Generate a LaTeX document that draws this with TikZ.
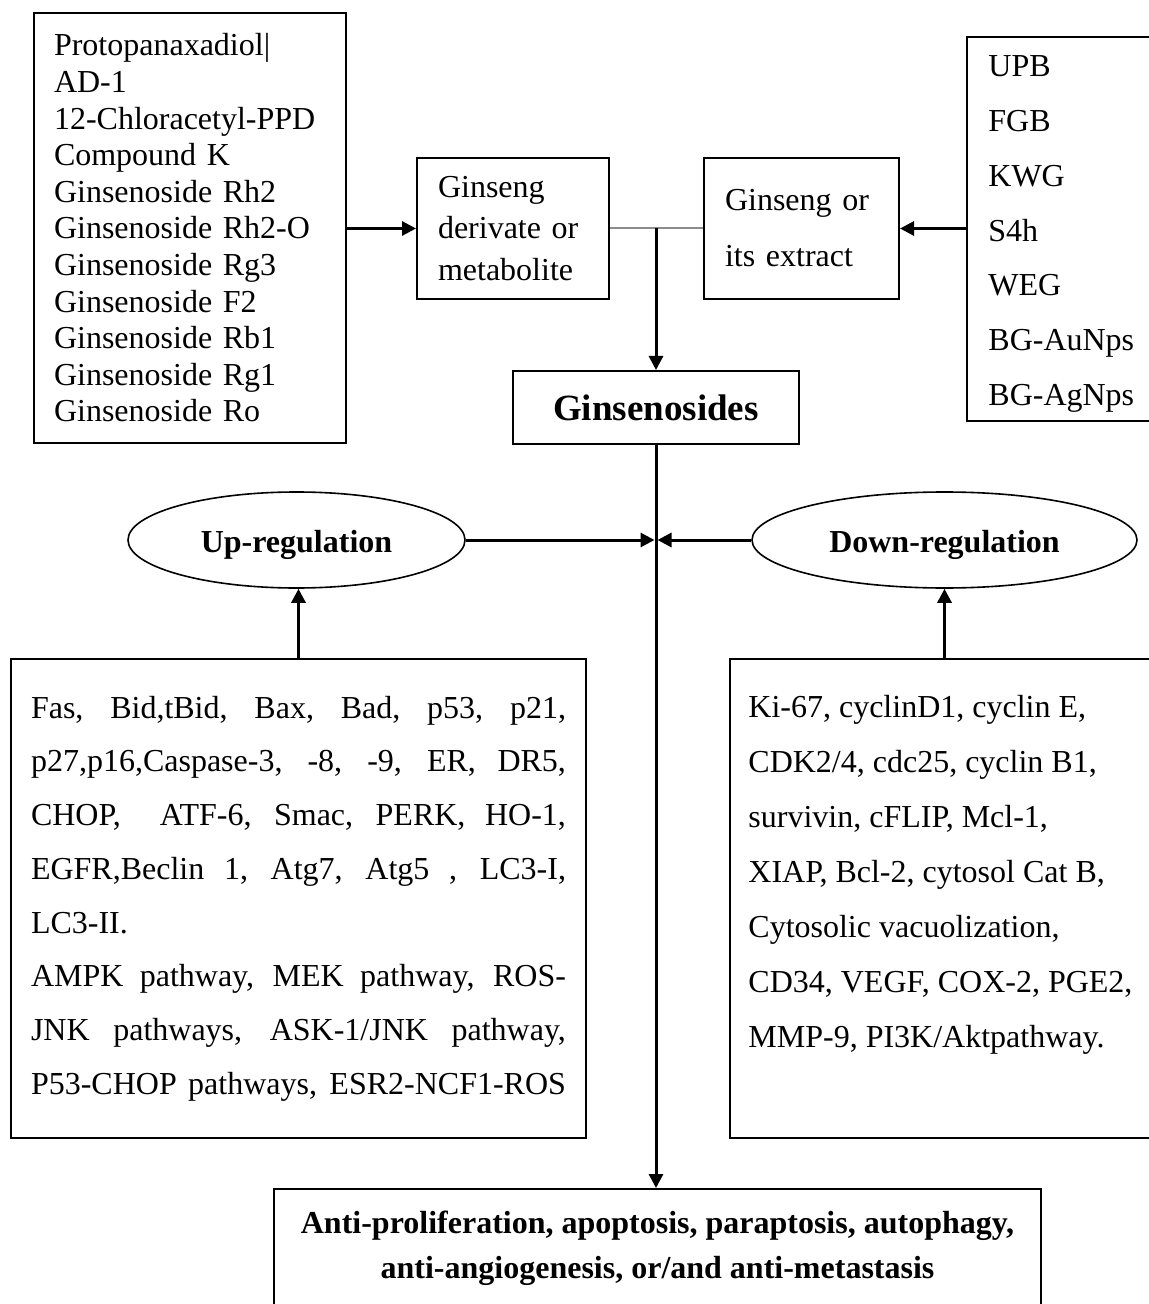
\documentclass[tikz,border=0pt]{standalone}
\usepackage{fontspec}
\setmainfont{Liberation Serif}
\usetikzlibrary{arrows.meta,shapes.geometric}
\newcommand\jline[1]{\leavevmode\hbox to 267.5pt{\spaceskip=0.25em plus 1fil minus 0.05em\relax #1}}
\begin{document}
\begin{tikzpicture}[x=0.5pt,y=-0.5pt,
  box/.style={draw, line width=1pt, rectangle, inner sep=0pt, anchor=north west},
  arr/.style={line width=1.5pt, -{Triangle[length=7pt,width=7pt]}},
  oval/.style={draw, ellipse, line width=0.8pt, inner sep=0pt, text height=12.5pt, text depth=0pt,
               font=\bfseries\fontsize{16}{19}\selectfont},
]
\useasboundingbox (0,0) rectangle (1149,1304);
\clip (0,0) rectangle (1149,1304);

% top-left list
\node[box, minimum width=156pt, minimum height=215pt, text width=136pt, inner xsep=10pt,
      align=left, font=\fontsize{16}{18.3}\selectfont] (tl) at (33,12)
  {Protopanaxadiol|\\AD-1\\12-Chloracetyl-PPD\\Compound K\\Ginsenoside Rh2\\Ginsenoside Rh2-O\\Ginsenoside Rg3\\Ginsenoside F2\\Ginsenoside Rb1\\Ginsenoside Rg1\\Ginsenoside Ro};

% derivate box
\node[box, minimum width=96pt, minimum height=70.5pt, text width=75pt, inner xsep=10.5pt,
      align=left, font=\fontsize{16}{20.75}\selectfont] (der) at (416,157)
  {Ginseng\\derivate or\\metabolite};

% extract box
\node[box, minimum width=97.5pt, minimum height=70.5pt, text width=76.5pt, inner xsep=10.5pt,
      align=left, font=\fontsize{16}{28}\selectfont] (ext) at (703,157)
  {Ginseng or\\its extract};

% right source list
\node[box, minimum width=95pt, minimum height=192pt] (src) at (966,36) {};
\node[anchor=west, inner sep=0pt, align=left, font=\fontsize{16}{27.4}\selectfont] (srct) at (988,234)
  {UPB\\FGB\\KWG\\S4h\\WEG\\BG-AuNps\\BG-AgNps};

% Ginsenosides
\node[box, minimum width=143pt, minimum height=36.5pt,
      font=\bfseries\fontsize{18.5}{22}\selectfont] (gin) at (512,370) {Ginsenosides};

% ellipses
\node[oval, minimum width=168.5pt, minimum height=48pt] (up) at (296.5,540) {Up-regulation};
\node[oval, minimum width=192.5pt, minimum height=48pt] (down) at (944.5,540) {Down-regulation};

% up-regulated list
\node[box, minimum width=287.5pt, minimum height=239.5pt, text width=267.5pt, inner xsep=10pt,
      align=left, font=\fontsize{16}{26.85}\selectfont] (ul) at (10,658)
  {\jline{Fas, Bid,tBid, Bax, Bad, p53, p21,}\\
   \jline{p27,p16,Caspase-3, -8, -9, ER, DR5,}\\
   \jline{CHOP, \ ATF-6, Smac, PERK, HO-1,}\\
   \jline{EGFR,Beclin 1, Atg7, Atg5 , LC3-I,}\\
   LC3-II.\\
   \jline{AMPK pathway, MEK pathway, ROS-}\\
   \jline{JNK pathways, ASK-1/JNK pathway,}\\
   \jline{P53-CHOP pathways, ESR2-NCF1-ROS}};

% down-regulated list
\node[box, minimum width=214.5pt, minimum height=239.5pt] (dr) at (729,658) {};
\node[anchor=west, inner sep=0pt, align=left, font=\fontsize{16}{27.5}\selectfont] (drt) at (748,875)
  {Ki-67, cyclinD1, cyclin E,\\CDK2/4, cdc25, cyclin B1,\\survivin, cFLIP, Mcl-1,\\XIAP, Bcl-2, cytosol Cat B,\\Cytosolic vacuolization,\\CD34, VEGF, COX-2, PGE2,\\MMP-9, PI3K/Aktpathway.};

% outcome
\node[box, minimum width=383.5pt, minimum height=59.5pt, align=center,
      font=\bfseries\fontsize{16}{22.5}\selectfont] (out) at (273,1188)
  {Anti-proliferation, apoptosis, paraptosis, autophagy,\\anti-angiogenesis, or/and anti-metastasis};

% connectors
\draw[arr] (der.west -| tl.east) -- (der.west);
\draw[arr] (ext.east -| src.west) -- (ext.east);
\draw[line width=1pt, black!45] (der.east) -- (ext.west);
\draw[arr] (gin.north |- der.east) -- (gin.north);
\draw[arr] (gin.south) -- (gin.south |- out.north);
\coordinate (jc) at (gin.south |- up.east);
\draw[arr] (up.east) -- ([xshift=-0.75pt]jc);
\draw[arr] (down.west) -- ([xshift=0.75pt]jc);
\draw[arr] (ul.north) -- (ul.north |- up.south);
\draw[arr] (dr.north) -- (dr.north |- down.south);
\end{tikzpicture}
\end{document}
